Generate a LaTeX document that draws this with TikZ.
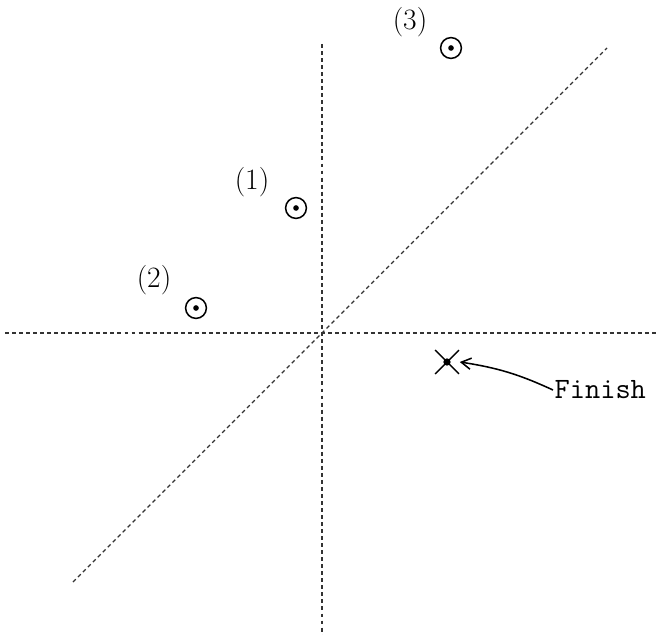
\documentclass[tikz,border=0pt]{standalone}
\usepackage{fontspec}
\usetikzlibrary{arrows.meta,positioning,shapes.misc}

\begin{document}
\begin{tikzpicture}[
  x=0.025cm,y=-0.025cm,
  axis/.style={line width=0.9pt,draw=black!80,dash pattern=on 2.8pt off 2.2pt},
  spot/.style={circle,draw,line width=1.1pt,minimum size=5.2mm,inner sep=0pt,
    path picture={\fill (path picture bounding box.center) circle (2pt);}},
  tag/.style={font=\fontsize{21}{23}\selectfont,inner sep=0pt},
  goal/.style={cross out,draw,line width=1pt,minimum size=5.6mm,inner sep=0pt},
  arr/.style={-{Straight Barb[length=2.4mm,width=2.8mm]},line width=1.1pt}
]
\useasboundingbox (0,0) rectangle (656,635);
% axes
\coordinate (west) at (5,333);
\coordinate (east) at (656,333);
\coordinate (north) at (322,44);
\coordinate (south) at (322,635);
\coordinate (low) at (73,582);
\coordinate (high) at (607,48);
\draw[axis] (west) -- (east);
\draw[axis] (north) -- (south);
\draw[axis] (low) -- (high);
% positions
\node[spot] (p1) at (296,208) {};
\node[spot] (p2) at (196,308) {};
\node[spot] (p3) at (451,48) {};
\node[tag] (l1) at (252,182) {(1)};
\node[tag] (l2) at (154,280) {(2)};
\node[tag] (l3) at (410,22) {(3)};
% finish
\node[goal] (end) at (447,362) {};
\fill (end.center) circle (2.6pt);
\node[font=\ttfamily\fontsize{21}{23}\selectfont,inner sep=1pt,anchor=west] (finish) at (553,390) {Finish};
\draw[arr] (finish.west) to[bend right=8] ([xshift=3.2mm]end.center);
\end{tikzpicture}
\end{document}
